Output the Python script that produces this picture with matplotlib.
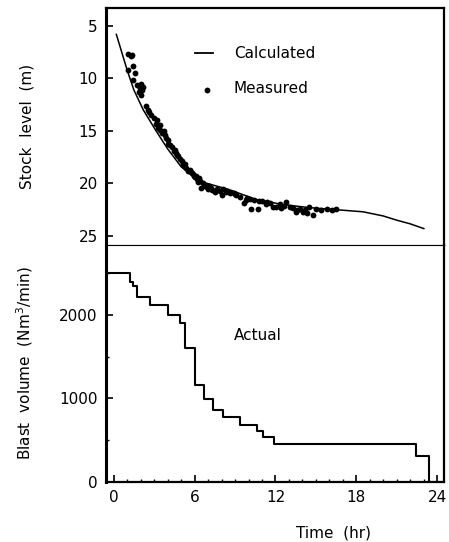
import numpy as np
import matplotlib
matplotlib.use("Agg")
import matplotlib.pyplot as plt
from matplotlib.ticker import MultipleLocator

# calculated stock level (m) vs time (hr)
t_calc = [0.2, 1.0, 1.5, 2.2, 3.1, 4.0, 5.0, 6.4, 8.6, 10.5, 12.5, 14.5,
          16.5, 18.5, 20.0, 21.0, 22.0, 23.0]
lvl_calc = [5.8, 9.2, 11.1, 13.0, 14.9, 16.7, 18.4, 19.8, 20.6, 21.5, 22.0,
            22.3, 22.5, 22.7, 23.1, 23.5, 23.85, 24.3]

# measured stock level
t_meas = [1.05, 1.3, 1.35, 1.45, 1.1, 1.6, 1.45, 1.75, 1.95, 2.1, 1.85, 2.05,
          2.2, 2.0, 2.55, 2.8, 3.0, 3.2, 3.3, 3.45, 3.6, 3.7, 3.9, 4.05, 4.2,
          4.3, 4.45, 4.55, 4.7, 4.9, 5.05, 5.2, 5.4, 5.5, 5.65, 5.8, 5.9, 6.0,
          6.15, 6.3, 6.4, 6.5, 6.6, 6.75, 6.9, 7.1, 7.3, 7.5, 7.7, 7.9, 8.0,
          8.1, 8.3, 8.6, 8.9, 9.1, 9.4, 9.7, 9.9, 10.1, 10.2, 10.4, 10.7,
          10.8, 11.0, 11.3, 11.6, 11.8, 12.05, 12.3, 12.6, 12.8, 13.05, 13.3,
          13.55, 13.8, 14.05, 14.3, 14.5, 14.8, 15.0, 15.4, 15.8, 16.2, 16.5,
          3.4, 4.0, 4.8, 5.3, 5.7, 6.1, 7.0, 9.8, 2.4, 2.65, 3.15, 3.8, 4.6,
          5.15, 5.95, 6.25, 7.2, 8.4, 9.0, 11.4, 12.4, 13.6, 14.2]
lvl_meas = [7.7, 7.9, 7.8, 8.8, 9.2, 9.5, 10.1, 10.6, 10.9, 11.1, 11.3, 11.6,
            10.8, 10.5, 13.0, 13.5, 13.8, 14.0, 14.7, 14.4, 15.2, 15.0, 15.7,
            15.9, 16.3, 16.5, 16.9, 16.8, 17.3, 17.7, 17.9, 18.3, 18.5, 18.8,
            18.7, 19.0, 19.1, 19.4, 19.6, 19.5, 19.8, 20.4, 20.0, 20.2, 20.3,
            20.2, 20.6, 20.8, 20.5, 20.7, 21.1, 20.5, 20.8, 20.9, 20.9, 21.1,
            21.3, 21.9, 21.4, 21.5, 22.4, 21.6, 22.4, 21.7, 21.7, 22.0, 21.9,
            22.2, 22.2, 22.0, 22.1, 21.8, 22.2, 22.3, 22.7, 22.4, 22.7, 22.85,
            22.2, 23.0, 22.4, 22.5, 22.4, 22.5, 22.45,
            14.9, 16.2, 17.4, 18.1, 18.9, 19.3, 20.5, 21.6, 12.6, 13.2, 14.3,
            15.4, 17.1, 18.1, 19.3, 19.9, 20.4, 20.7, 21.0, 21.8, 22.3, 22.5,
            22.5]

# blast volume (Nm3/min), value holds from each time until the next
t_blast = [-0.6, 1.2, 1.45, 1.7, 2.7, 4.05, 4.9, 5.3, 6.0, 6.7, 7.4, 8.1,
           9.4, 10.6, 11.1, 11.9, 22.4, 23.4, 24.5]
vol_blast = [2500, 2400, 2350, 2220, 2120, 2000, 1900, 1610, 1160, 990, 860,
             780, 680, 610, 535, 455, 310, 0, 0]

plt.rcParams['font.family'] = ['DejaVu Sans']
fig = plt.figure(figsize=(4.49, 5.42), dpi=100)
ax1 = fig.add_axes([0.236, 0.548, 0.753, 0.437])
ax2 = fig.add_axes([0.236, 0.111, 0.753, 0.437])

# stock level
ax1.plot(t_calc, lvl_calc, color='k', lw=1.1)
ax1.plot(t_meas, lvl_meas, 'o', color='k', ms=4.2, mew=0)
ax1.set_xlim(-0.57, 24.5)
ax1.set_ylim(25.86, 3.3)
ax1.set_yticks([5, 10, 15, 20, 25])
ax1.set_xticks([])
ax1.tick_params(axis='y', direction='in', length=5, width=1.2,
                labelsize=11, pad=6)
ax1.set_ylabel('Stock  level  (m)', fontsize=11)
ax1.yaxis.set_label_coords(-0.21, 0.5)

ax1.plot([6.0, 7.4], [7.6, 7.6], color='k', lw=1.3)
ax1.plot([6.9], [11.1], 'o', color='k', ms=4.2, mew=0)
ax1.text(8.9, 7.6, 'Calculated', fontsize=11, va='center')
ax1.text(8.9, 11.0, 'Measured', fontsize=11, va='center')

# blast volume
ax2.step(t_blast, vol_blast, where='post', color='k', lw=1.5)
ax2.set_xlim(-0.57, 24.5)
ax2.set_ylim(0, 2840)
ax2.set_xticks([0, 6, 12, 18, 24])
ax2.xaxis.set_minor_locator(MultipleLocator(1))
ax2.set_yticks([0, 1000, 2000])
ax2.yaxis.set_minor_locator(MultipleLocator(500))
ax2.tick_params(which='major', direction='in', length=5, width=1.2,
                labelsize=11, pad=6)
ax2.tick_params(which='minor', direction='in', length=2.5, width=1)
ax2.set_ylabel('Blast  volume  (Nm$^3$/min)', fontsize=11)
ax2.yaxis.set_label_coords(-0.21, 0.5)
ax2.text(8.9, 1750, 'Actual', fontsize=11, va='center')
fig.text(0.742, 0.017, 'Time  (hr)', fontsize=11, ha='center', va='center')

for ax in (ax1, ax2):
    for side in ('left', 'right', 'top', 'bottom'):
        ax.spines[side].set_linewidth(1.6)
    ax.spines['left'].set_linewidth(2.2)
ax1.spines['bottom'].set_linewidth(0.8)
ax2.spines['top'].set_linewidth(0.8)

fig.savefig('out.png', dpi=100)
